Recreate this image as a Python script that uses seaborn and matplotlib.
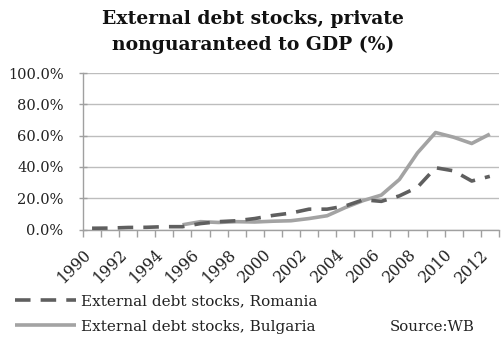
import matplotlib
matplotlib.use("Agg")
import matplotlib.pyplot as plt
from matplotlib.ticker import FixedLocator, FuncFormatter
from matplotlib.transforms import ScaledTranslation
import seaborn as sns
import pandas as pd
import numpy as np

years = list(range(1990, 2013))
romania = [0.8, 0.9, 1.3, 1.4, 1.8, 1.8, 3.8, 5.0, 5.6, 7.0, 9.0, 10.5, 13.0,
           13.0, 15.0, 19.0, 18.0, 21.5, 27.0, 39.5, 37.5, 31.0, 34.0]
bulgaria = [np.nan, np.nan, np.nan, np.nan, np.nan, 3.0, 5.0, 4.5, 5.0, 4.8,
            5.3, 5.6, 7.0, 8.8, 14.0, 18.5, 22.0, 32.0, 49.0, 62.0, 59.0,
            55.0, 61.0]
series_names = ["External debt stocks, Romania", "External debt stocks, Bulgaria"]

sns.set_theme(style="white")
plt.rcParams["font.family"] = ["DejaVu Serif"]

df = pd.DataFrame({"idx": np.arange(len(years)), "year": years,
                   series_names[0]: romania, series_names[1]: bulgaria})
long = df.melt(id_vars=["idx", "year"], var_name="series", value_name="value")

fig = plt.figure(figsize=(5.01, 3.40), dpi=100)
ax = fig.add_axes([0.1657, 0.325, 0.83, 0.46])

sns.lineplot(data=long, x="idx", y="value", hue="series",
             palette=["#5f5f5f", "#a3a3a3"], linewidth=2.6, ax=ax,
             legend=False, sort=False)

lines = ax.get_lines()
lines[0].set_dashes((4.3, 2.8))
lines[0].set_dash_capstyle("butt")
lines[1].set_solid_capstyle("butt")
lines[0].set_zorder(3)
lines[1].set_zorder(2)

ax.set_xlim(-0.5, len(years) - 0.5)
ax.set_ylim(0, 100)
ax.set_xlabel("")
ax.set_ylabel("")

# y axis
ax.set_yticks(np.arange(0, 101, 20))
ax.yaxis.set_major_formatter(FuncFormatter(lambda v, p: f"{v:.1f}%"))
ax.yaxis.grid(True, color="#bdbdbd", linewidth=1.0)
ax.tick_params(axis="y", which="major", length=6, width=1, color="#a0a0a0",
               direction="inout", labelsize=10.5, labelcolor="#222222",
               left=True, pad=11)

# x axis: labels on every other year, tick marks on category boundaries
ax.set_xticks(np.arange(0, len(years), 2))
ax.set_xticklabels([str(y) for y in years[::2]], rotation=45,
                   ha="right", va="top", rotation_mode="anchor")
ax.xaxis.set_minor_locator(FixedLocator(np.arange(-0.5, len(years), 1)))
ax.tick_params(axis="x", which="major", length=0, labelsize=11.3,
               labelcolor="#222222", pad=12)
ax.tick_params(axis="x", which="minor", length=5, width=1, color="#a0a0a0",
               bottom=True)
shift = ScaledTranslation(-7 / 72, 0, fig.dpi_scale_trans)
for lbl in ax.get_xticklabels():
    lbl.set_transform(lbl.get_transform() + shift)

for side in ["top", "right"]:
    ax.spines[side].set_visible(False)
for side in ["left", "bottom"]:
    ax.spines[side].set_color("#a0a0a0")
    ax.spines[side].set_linewidth(1.0)

fig.suptitle("External debt stocks, private\nnonguaranteed to GDP (%)",
             x=0.505, y=0.972, va="top", fontsize=13.5, fontweight="bold",
             color="#111111", linespacing=1.55)

leg = fig.legend(handles=lines, labels=series_names, loc="upper left",
                 bbox_to_anchor=(0.03, 0.133), frameon=False, fontsize=11,
                 handlelength=4.0, handletextpad=0.35, labelspacing=0.72,
                 borderaxespad=0, borderpad=0)
for t in leg.get_texts():
    t.set_color("#222222")

fig.text(0.778, 0.038, "Source:WB", fontsize=10.8, color="#222222",
         ha="left", va="center")

fig.savefig("out.png", dpi=100)
